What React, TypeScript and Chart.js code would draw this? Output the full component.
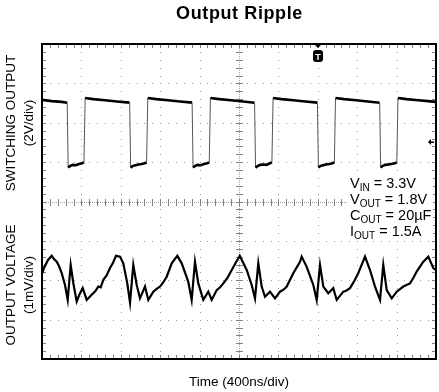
import React, { useEffect, useRef } from "react";
import { Chart, registerables } from "chart.js";

Chart.register(...registerables);

// ---- data (time and level in scope divisions) ----
const switchTime = [
  0.0, 0.25, 0.5, 0.64, 0.665, 0.71, 0.78, 0.86, 0.94, 1.01, 1.065, 1.095, 1.3, 1.6, 1.9,
  2.225, 2.25, 2.3, 2.37, 2.45, 2.53, 2.6, 2.655, 2.685, 2.9, 3.2, 3.5,
  3.81, 3.835, 3.88, 3.95, 4.03, 4.11, 4.19, 4.245, 4.275, 4.5, 4.8, 5.1,
  5.395, 5.42, 5.47, 5.54, 5.62, 5.7, 5.78, 5.835, 5.865, 6.08, 6.38, 6.68,
  6.99, 7.015, 7.06, 7.13, 7.21, 7.29, 7.37, 7.42, 7.45, 7.67, 7.97, 8.27,
  8.57, 8.595, 8.64, 8.71, 8.79, 8.87, 8.95, 9.005, 9.035, 9.25, 9.55, 9.8, 10.0,
];
const switchLevel = [
  6.58, 6.55, 6.53, 6.51, 4.86, 4.9, 4.93, 4.92, 4.95, 4.97, 4.99, 6.63, 6.6, 6.57, 6.54,
  6.51, 4.86, 4.9, 4.92, 4.94, 4.95, 4.97, 4.99, 6.63, 6.6, 6.57, 6.54,
  6.51, 4.86, 4.9, 4.93, 4.92, 4.95, 4.97, 4.99, 6.63, 6.6, 6.57, 6.54,
  6.51, 4.86, 4.9, 4.93, 4.94, 4.93, 4.97, 4.99, 6.63, 6.6, 6.57, 6.54,
  6.51, 4.86, 4.9, 4.92, 4.94, 4.95, 4.97, 4.99, 6.63, 6.6, 6.57, 6.54,
  6.51, 4.86, 4.9, 4.93, 4.94, 4.95, 4.97, 4.99, 6.63, 6.6, 6.57, 6.55, 6.53,
];

const rippleTime = [
  0.0, 0.05, 0.15, 0.246, 0.305, 0.373, 0.431, 0.5, 0.584, 0.652, 0.728, 0.794, 0.881, 0.947,
  1.033, 1.135, 1.261, 1.35, 1.429, 1.49, 1.556, 1.64, 1.726, 1.8, 1.878, 1.98, 2.063, 2.165,
  2.234, 2.317, 2.404, 2.487, 2.614, 2.698, 2.825, 2.91, 2.995, 3.08, 3.165, 3.292, 3.434,
  3.546, 3.713, 3.799, 3.883, 3.967, 4.094, 4.221, 4.307, 4.434, 4.52, 4.602, 4.7, 4.815,
  4.92, 5.02, 5.195, 5.322, 5.406, 5.49, 5.576, 5.66, 5.787, 5.914, 6.041, 6.13, 6.211,
  6.378, 6.548, 6.591, 6.718, 6.886, 6.972, 7.056, 7.14, 7.266, 7.393, 7.48, 7.647, 7.73,
  7.817, 7.92, 8.028, 8.198, 8.325, 8.452, 8.579, 8.662, 8.749, 8.876, 9.003, 9.17, 9.34,
  9.42, 9.51, 9.678, 9.805, 9.931, 10.0,
];
const rippleLevel = [
  2.16, 2.31, 2.51, 2.62, 2.54, 2.47, 2.36, 2.18, 1.88, 1.5, 2.39, 1.93, 1.46, 1.63,
  1.8, 1.5, 1.63, 1.72, 1.84, 1.82, 2.01, 2.12, 2.31, 2.44, 2.62, 2.6, 2.43, 1.92,
  1.43, 2.39, 1.88, 1.54, 1.84, 1.5, 1.71, 1.78, 1.84, 1.95, 2.09, 2.43, 2.62,
  2.43, 1.96, 1.5, 2.47, 1.92, 1.5, 1.71, 1.5, 1.75, 1.82, 1.92, 2.05, 2.26,
  2.45, 2.62, 2.26, 1.88, 1.54, 2.43, 1.84, 1.58, 1.71, 1.54, 1.71, 1.76, 1.84,
  2.18, 2.47, 2.6, 2.34, 1.88, 1.5, 2.39, 1.84, 1.67, 1.8, 1.5, 1.71, 1.74,
  1.8, 1.97, 2.18, 2.6, 2.26, 1.84, 1.5, 2.39, 1.75, 1.54, 1.71, 1.84, 1.92,
  2.05, 2.22, 2.47, 2.6, 2.31, 2.26,
];

const X_DIVISIONS = 10;
const Y_DIVISIONS = 8;
const TRIGGER_TIME = 7;
const CH1_MARKER_LEVEL = 5.5;

const titleText = "Output Ripple";
const xAxisLabel = "Time (400ns/div)";
const topAxisLabels = ["SWITCHING OUTPUT", "(2V/div)"];
const bottomAxisLabels = ["OUTPUT VOLTAGE", "(1mV/div)"];
const conditionLines = [
  ["V", "IN", " = 3.3V"],
  ["V", "OUT", " = 1.8V"],
  ["C", "OUT", " = 20µF"],
  ["I", "OUT", " = 1.5A"],
];

const FONT = '"Liberation Sans", Arial, Helvetica, sans-serif';

const scopePlugin = {
  id: "scopeDecor",
  beforeDatasetsDraw(chart: any) {
    const { ctx, chartArea, scales } = chart;
    const { left, right, top, bottom } = chartArea;
    const x = scales.x;
    const y = scales.y;
    ctx.save();
    // dotted grid
    ctx.fillStyle = "#9a9a9a";
    for (let i = 1; i < X_DIVISIONS; i++) {
      if (i === X_DIVISIONS / 2) continue;
      const px = Math.round(x.getPixelForValue(i));
      for (let j = 1; j < Y_DIVISIONS * 5; j++) {
        const py = Math.round(y.getPixelForValue(j / 5));
        ctx.fillRect(px, py, 1, 1);
      }
    }
    for (let k = 1; k < Y_DIVISIONS; k++) {
      if (k === Y_DIVISIONS / 2) continue;
      const py = Math.round(y.getPixelForValue(k));
      for (let j = 1; j < X_DIVISIONS * 5; j++) {
        const px = Math.round(x.getPixelForValue(j / 5));
        ctx.fillRect(px, py, 1, 1);
      }
    }
    // center cross lines
    const cx = Math.round(x.getPixelForValue(X_DIVISIONS / 2));
    const cy = Math.round(y.getPixelForValue(Y_DIVISIONS / 2));
    ctx.fillStyle = "#a0a0a0";
    for (let py = top; py < bottom; py += 2) ctx.fillRect(cx, py, 1, 1);
    for (let px = left; px < right; px += 2) ctx.fillRect(px, cy, 1, 1);
    ctx.fillStyle = "#808080";
    for (let j = 1; j < Y_DIVISIONS * 5; j++) {
      const py = Math.round(y.getPixelForValue(j / 5));
      ctx.fillRect(cx - 3, py, 7, 1);
      ctx.fillRect(left + 1, py, 3, 1);
      ctx.fillRect(right - 4, py, 3, 1);
    }
    for (let j = 1; j < X_DIVISIONS * 5; j++) {
      const px = Math.round(x.getPixelForValue(j / 5));
      ctx.fillRect(px, cy - 3, 1, 7);
      ctx.fillRect(px, top + 1, 1, 3);
      ctx.fillRect(px, bottom - 4, 1, 3);
    }
    // white box behind the conditions
    ctx.fillStyle = "#ffffff";
    ctx.fillRect(347, 174, 86, 66);
    ctx.restore();
  },
  afterDatasetsDraw(chart: any) {
    const { ctx, chartArea, scales } = chart;
    const { left, right, top, bottom } = chartArea;
    const x = scales.x;
    const y = scales.y;
    ctx.save();
    // frame
    ctx.strokeStyle = "#000";
    ctx.lineWidth = 2;
    ctx.strokeRect(left, top, right - left, bottom - top);

    // trigger marker
    const tx = Math.round(x.getPixelForValue(TRIGGER_TIME));
    ctx.fillStyle = "#000";
    ctx.beginPath();
    ctx.moveTo(tx - 4, top);
    ctx.lineTo(tx + 4, top);
    ctx.lineTo(tx, top + 4);
    ctx.closePath();
    ctx.fill();
    ctx.beginPath();
    const bx = tx - 5, by = top + 6, bw = 10, bh = 12, r = 3;
    ctx.moveTo(bx + r, by);
    ctx.lineTo(bx + bw - r, by);
    ctx.quadraticCurveTo(bx + bw, by, bx + bw, by + r);
    ctx.lineTo(bx + bw, by + bh - r);
    ctx.quadraticCurveTo(bx + bw, by + bh, bx + bw - r, by + bh);
    ctx.lineTo(bx + r, by + bh);
    ctx.quadraticCurveTo(bx, by + bh, bx, by + bh - r);
    ctx.lineTo(bx, by + r);
    ctx.quadraticCurveTo(bx, by, bx + r, by);
    ctx.fill();
    ctx.fillStyle = "#fff";
    ctx.font = `bold 9px ${FONT}`;
    ctx.textAlign = "center";
    ctx.textBaseline = "alphabetic";
    ctx.fillText("T", tx, by + 10);

    // channel marker arrow on the right
    const my = Math.round(y.getPixelForValue(CH1_MARKER_LEVEL));
    ctx.fillStyle = "#000";
    ctx.beginPath();
    ctx.moveTo(right - 8, my);
    ctx.lineTo(right - 5, my - 3);
    ctx.lineTo(right - 5, my + 3);
    ctx.closePath();
    ctx.fill();
    ctx.fillRect(right - 5, my - 0.5, 3, 1.5);

    // conditions text
    ctx.fillStyle = "#000";
    ctx.textAlign = "left";
    const baselines = [187.5, 203.5, 219.5, 235.5];
    conditionLines.forEach((parts, i) => {
      let px = 350;
      const base = baselines[i];
      ctx.font = `14.5px ${FONT}`;
      ctx.fillText(parts[0], px, base);
      px += ctx.measureText(parts[0]).width;
      ctx.font = `10px ${FONT}`;
      ctx.fillText(parts[1], px, base + 3.5);
      px += ctx.measureText(parts[1]).width;
      ctx.font = `14.5px ${FONT}`;
      ctx.fillText(parts[2], px, base);
    });
    ctx.restore();
  },
  afterDraw(chart: any) {
    const { ctx } = chart;
    ctx.save();
    ctx.fillStyle = "#000";
    ctx.textAlign = "center";
    ctx.textBaseline = "alphabetic";
    // title
    ctx.font = `bold 18px ${FONT}`;
    try {
      (ctx as any).letterSpacing = "0.6px";
    } catch (e) {}
    ctx.fillText(titleText, 239.5, 18.5);
    try {
      (ctx as any).letterSpacing = "0px";
    } catch (e) {}
    // x label
    ctx.font = `13.5px ${FONT}`;
    ctx.fillText(xAxisLabel, 239, 385.5);
    // y labels
    const drawRot = (text: string, bx: number, cy: number) => {
      ctx.save();
      ctx.translate(bx, cy);
      ctx.rotate(-Math.PI / 2);
      ctx.fillText(text, 0, 0);
      ctx.restore();
    };
    drawRot(topAxisLabels[0], 15, 123);
    drawRot(topAxisLabels[1], 33, 123);
    drawRot(bottomAxisLabels[0], 15, 285);
    drawRot(bottomAxisLabels[1], 33, 285);
    ctx.restore();
  },
};

export default function App() {
  const canvasRef = useRef<HTMLCanvasElement | null>(null);

  useEffect(() => {
    if (!canvasRef.current) return;
    const switchData = switchTime.map((t, i) => ({ x: t, y: switchLevel[i] }));
    const rippleData = rippleTime.map((t, i) => ({ x: t, y: rippleLevel[i] }));
    const chart = new Chart(canvasRef.current, {
      type: "line",
      data: {
        datasets: [
          {
            label: "Switching output",
            data: switchData,
            borderColor: "#000",
            borderWidth: 2.6,
            pointRadius: 0,
            tension: 0,
            fill: false,
            segment: {
              borderWidth: (ctx: any) =>
                Math.abs(ctx.p1.parsed.y - ctx.p0.parsed.y) > 0.5 ? 1 : 2.6,
              borderColor: (ctx: any) =>
                Math.abs(ctx.p1.parsed.y - ctx.p0.parsed.y) > 0.5 ? "#555" : "#000",
            },
          },
          {
            label: "Output voltage",
            data: rippleData,
            borderColor: "#000",
            borderWidth: 2.2,
            pointRadius: 0,
            tension: 0,
            fill: false,
          },
        ],
      },
      options: {
        animation: false,
        responsive: false,
        devicePixelRatio: 1,
        layout: { padding: { left: 42, right: 3, top: 44, bottom: 33 } },
        plugins: {
          legend: { display: false },
          tooltip: { enabled: false },
          title: { display: false },
        },
        events: [],
        scales: {
          x: { type: "linear", min: 0, max: X_DIVISIONS, display: false },
          y: { type: "linear", min: 0, max: Y_DIVISIONS, display: false },
        },
      },
      plugins: [scopePlugin as any],
    });
    return () => chart.destroy();
  }, []);

  return (
    <div
      style={{
        position: "fixed",
        left: 0,
        top: 0,
        width: 439,
        height: 392,
        background: "#fff",
      }}
    >
      <canvas ref={canvasRef} width={439} height={392} style={{ display: "block" }} />
    </div>
  );
}
